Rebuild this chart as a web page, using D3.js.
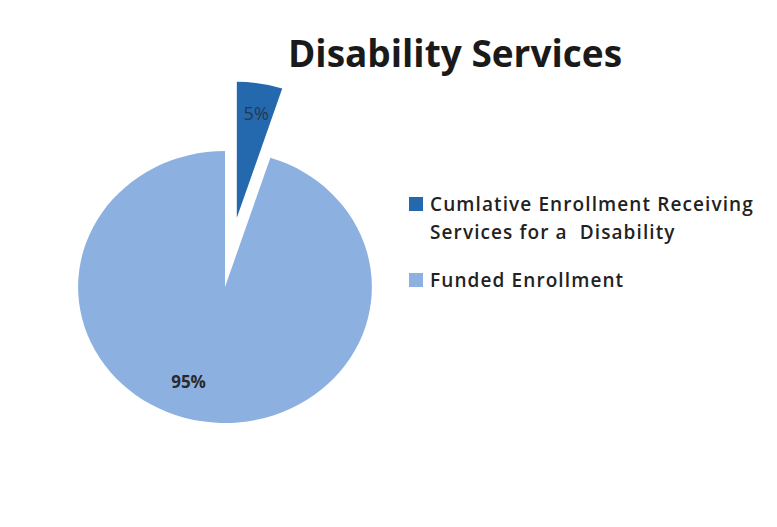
<!DOCTYPE html>
<html>
<head>
<meta charset="utf-8">
<script src="https://cdn.jsdelivr.net/npm/d3@7"></script>
<style>
  body { margin: 0; background: #fff; }
  svg { font-family: "Open Sans", "Liberation Sans", sans-serif; }
</style>
</head>
<body>
<div id="chart"></div>
<script>
// chart data
var categories = ["Cumlative Enrollment Receiving Services for a  Disability", "Funded Enrollment"];
var legendLines = [["Cumlative Enrollment Receiving", "Services for a  Disability"], ["Funded Enrollment"]];
var values = [5, 95];
var labels = ["5%", "95%"];
var colors = ["#2468ad", "#8cb1e1"];

var width = 777, height = 527;

var svg = d3.select("#chart")
  .append("svg")
    .attr("width", width)
    .attr("height", height);

svg.append("rect")
    .attr("width", width)
    .attr("height", height)
    .attr("fill", "#fff");

// title
svg.append("text")
    .attr("x", 455)
    .attr("y", 67)
    .attr("text-anchor", "middle")
    .style("font-size", "37px")
    .style("font-weight", "bold")
    .style("fill", "#1a1a1a")
    .text("Disability Services");

// pie - the scan is a bit wider than tall, so stretch x
var cx = 225, cy = 287, sx = 1.08;
var radius = 136;
var explode = 70;
var pieG = svg.append("g")
    .attr("transform", "translate(" + cx + "," + cy + ") scale(" + sx + ",1)");

var pie = d3.pie().sort(null).value(function(d) { return d; });
var arcs = pie(values);

var arc = d3.arc().innerRadius(0).outerRadius(radius);

function offset(d, i) {
  if (i !== 0) return [0, 0];
  var a = (d.startAngle + d.endAngle) / 2;
  return [Math.sin(a) * explode, -Math.cos(a) * explode];
}

pieG.selectAll("path.slice")
  .data(arcs)
  .enter()
  .append("path")
    .attr("class", "slice")
    .attr("d", arc)
    .attr("transform", function(d, i) {
      var o = offset(d, i);
      return "translate(" + o[0] + "," + o[1] + ")";
    })
    .attr("fill", function(d, i) { return colors[i]; });

// slice labels (Excel puts the big one a bit past the middle angle)
var labelR = [0.77, 0.75];
var labelTurn = [0.015, 0.18];
var labelStyle = [
  { size: "18px", weight: "normal", fill: "#24384f" },
  { size: "17px", weight: "bold", fill: "#2a2a2a" }
];

arcs.forEach(function(d, i) {
  var a = (d.startAngle + d.endAngle) / 2 + labelTurn[i];
  var r = radius * labelR[i];
  var o = offset(d, i);
  var px = cx + (Math.sin(a) * r + o[0]) * sx;
  var py = cy - Math.cos(a) * r + o[1];
  svg.append("text")
      .attr("x", px)
      .attr("y", py)
      .attr("text-anchor", "middle")
      .attr("dominant-baseline", "middle")
      .style("font-size", labelStyle[i].size)
      .style("font-weight", labelStyle[i].weight)
      .style("fill", labelStyle[i].fill)
      .text(labels[i]);
});

// legend
var legendY = [197, 273];
var legend = svg.append("g").attr("class", "legend");

legendLines.forEach(function(lines, i) {
  legend.append("rect")
      .attr("x", 409)
      .attr("y", legendY[i])
      .attr("width", 14)
      .attr("height", 14)
      .attr("fill", colors[i]);
  var t = legend.append("text")
      .attr("x", 430)
      .attr("y", legendY[i] + 14)
      .style("font-size", "19px")
      .style("font-weight", "600")
      .style("letter-spacing", "1.1px")
      .style("white-space", "pre")
      .style("fill", "#222");
  lines.forEach(function(line, j) {
    t.append("tspan")
        .attr("x", 430)
        .attr("dy", j === 0 ? 0 : 28)
        .text(line);
  });
});
</script>
</body>
</html>
